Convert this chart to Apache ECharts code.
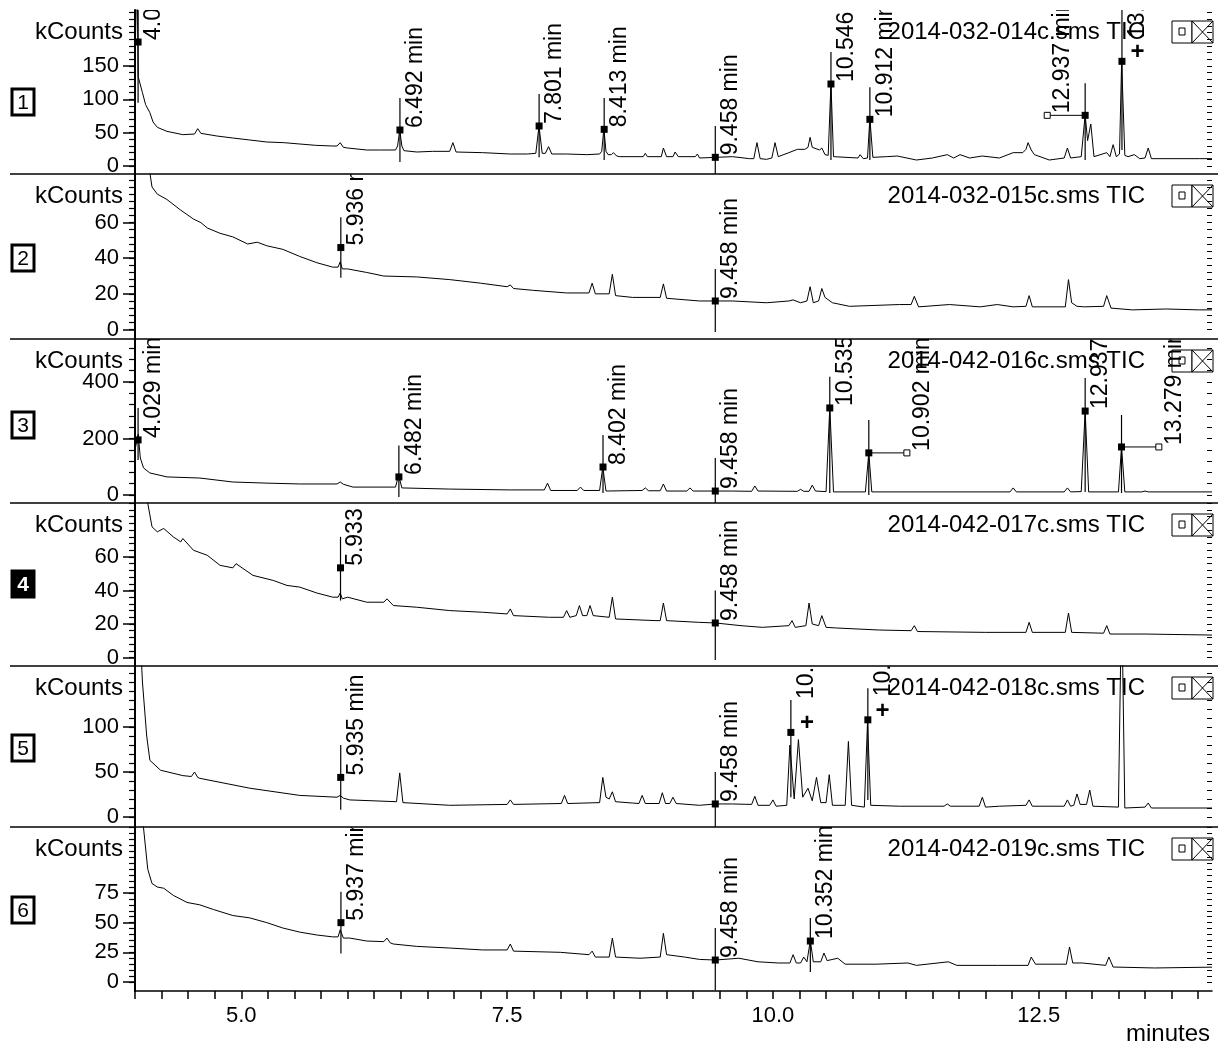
<!DOCTYPE html>
<html>
<head>
<meta charset="utf-8">
<script src="https://cdn.jsdelivr.net/npm/echarts@6/dist/echarts.min.js"></script>
<style>
  html, body { margin: 0; padding: 0; background: #fff; }
  #chart { width: 1218px; height: 1046px; }
</style>
</head>
<body>
<div id="chart"></div>
<script>
// TIC traces, [minutes, kCounts]
var trace1 = [[4.00,160],[4.02,300],[4.03,134],[4.07,110],[4.10,92],[4.14,80],[4.17,66],[4.21,58],[4.30,52],[4.45,47],[4.56,48],[4.59,56],[4.62,49],[4.77,45],[4.92,42],[5.08,39],[5.24,36],[5.40,35],[5.55,33],[5.70,31],[5.86,30],[5.90,30],[5.93,35],[5.96,28],[6.00,27],[6.18,24],[6.30,24],[6.45,24],[6.47,30],[6.49,54],[6.51,30],[6.53,23],[6.65,21],[6.80,22],[6.96,22],[6.99,35],[7.02,21],[7.27,20],[7.53,18],[7.69,18],[7.77,19],[7.80,60],[7.83,19],[7.86,19],[7.89,29],[7.92,18],[8.06,18],[8.25,17],[8.37,18],[8.39,22],[8.41,56],[8.43,22],[8.45,17],[8.48,17],[8.50,20],[8.53,15],[8.56,14],[8.78,14],[8.80,19],[8.82,14],[8.95,14],[8.97,27],[9.00,14],[9.06,14],[9.08,21],[9.11,14],[9.27,14],[9.29,18],[9.31,12],[9.46,13],[9.62,14],[9.78,11],[9.82,11],[9.85,35],[9.88,11],[9.94,10],[9.99,12],[10.02,35],[10.05,14],[10.15,20],[10.23,25],[10.30,25],[10.33,28],[10.35,43],[10.37,28],[10.44,24],[10.46,27],[10.49,17],[10.52,16],[10.546,124],[10.57,14],[10.80,12],[10.82,17],[10.85,11],[10.89,12],[10.912,72],[10.94,13],[11.07,14],[11.17,15],[11.35,9],[11.50,12],[11.64,17],[11.70,12],[11.76,17],[11.85,12],[11.97,15],[12.13,12],[12.26,20],[12.35,20],[12.38,25],[12.40,35],[12.43,24],[12.46,17],[12.60,9],[12.74,12],[12.77,27],[12.80,12],[12.90,14],[12.937,77],[12.96,38],[12.99,63],[13.02,14],[13.14,20],[13.17,14],[13.20,32],[13.23,14],[13.26,18],[13.28,157],[13.31,16],[13.34,14],[13.40,17],[13.45,11],[13.50,12],[13.53,27],[13.56,11],[14.01,11],[14.13,11]];

var trace2 = [[4.00,300],[4.10,120],[4.14,88],[4.16,80],[4.21,76],[4.30,73],[4.43,67],[4.55,62],[4.62,60],[4.68,57],[4.80,54],[4.92,52],[5.06,48],[5.15,49],[5.24,47],[5.39,45],[5.55,41],[5.71,37.5],[5.86,35],[5.91,35],[5.93,38],[5.95,34],[6.00,34],[6.18,32],[6.34,30],[6.65,29.5],[6.96,28],[7.25,26],[7.50,24],[7.53,25],[7.56,23],[7.74,22],[8.06,20.5],[8.27,20.5],[8.30,26],[8.33,20],[8.46,20],[8.49,31],[8.52,19],[8.68,18],[8.94,18],[8.97,25.6],[9.00,17.5],[9.31,16],[9.46,16],[9.62,16],[9.94,15],[10.15,16],[10.19,16.6],[10.26,15],[10.32,16],[10.35,24],[10.38,15],[10.43,16],[10.46,23],[10.49,18],[10.56,15],[10.72,13],[11.19,14],[11.30,14],[11.33,18.6],[11.37,12.7],[11.66,14],[11.95,12.7],[12.11,14],[12.26,12.7],[12.38,13],[12.41,19],[12.44,12.7],[12.75,12.7],[12.78,28],[12.81,15],[12.86,13],[12.93,12.7],[13.11,13],[13.14,19],[13.18,12],[13.38,11],[13.70,11.5],[14.01,11],[14.13,11]];

var trace3 = [[4.00,160],[4.03,215],[4.05,131],[4.08,96],[4.14,78],[4.30,64],[4.61,60],[4.92,46],[5.24,42],[5.55,39],[5.90,39],[5.93,46],[5.96,38],[6.05,28],[6.45,28],[6.48,70],[6.51,25],[6.96,21],[7.53,18],[7.85,18],[7.88,42],[7.91,16],[8.16,16],[8.19,28],[8.22,16],[8.37,16],[8.40,99],[8.43,14],[8.77,16],[8.80,25],[8.83,15],[8.94,15],[8.97,39],[9.00,14],[9.19,14],[9.22,25],[9.25,14],[9.46,14],[9.62,14],[9.80,13],[9.83,32],[9.86,14],[10.23,13],[10.26,20],[10.29,13],[10.34,13],[10.37,35],[10.40,14],[10.50,12],[10.535,310],[10.57,11],[10.87,11],[10.902,149],[10.93,11],[11.60,11],[12.23,11],[12.26,25],[12.29,11],[12.74,11],[12.77,25],[12.80,11],[12.90,12],[12.937,297],[12.97,11],[13.25,11],[13.279,170],[13.31,11],[13.47,11],[13.50,14],[13.53,11],[14.13,11]];

var trace4 = [[4.00,300],[4.12,92],[4.16,78],[4.21,75],[4.27,77],[4.36,72],[4.43,69],[4.45,71],[4.55,64],[4.68,61],[4.80,55],[4.92,53.5],[4.95,56],[5.11,49],[5.30,46],[5.43,43],[5.55,42],[5.71,38.5],[5.86,36],[5.91,36],[5.93,38.5],[5.95,35],[6.00,36],[6.18,33],[6.34,33],[6.37,35],[6.43,31],[6.65,30],[6.96,28],[7.27,27],[7.50,26],[7.53,29],[7.56,25],[7.90,24],[8.03,24],[8.06,28],[8.09,24],[8.15,25],[8.18,31],[8.21,25],[8.25,25],[8.28,31],[8.31,25],[8.46,24],[8.49,36],[8.52,23],[8.90,22],[8.94,22],[8.97,32.5],[9.00,22],[9.30,21],[9.46,20.6],[9.70,19],[9.90,18],[10.15,19],[10.18,22],[10.21,18],[10.31,19],[10.34,32.5],[10.37,20],[10.43,19],[10.46,25],[10.50,18],[10.60,17.6],[11.00,16.4],[11.30,16],[11.33,19],[11.36,15.5],[12.00,15],[12.38,15],[12.41,21],[12.44,15],[12.75,15],[12.78,26.5],[12.81,15],[13.11,14.5],[13.14,19],[13.17,14],[13.50,14],[14.13,13.4]];

var trace5 = [[4.00,300],[4.03,250],[4.07,150],[4.11,90],[4.14,63],[4.24,52],[4.45,46],[4.53,45],[4.56,50],[4.59,44],[4.61,43],[5.08,32],[5.55,24],[5.90,22],[5.93,24],[5.96,21],[6.02,19],[6.46,17],[6.49,49],[6.52,16],[6.96,13],[7.50,14],[7.53,19],[7.56,14],[8.01,15],[8.04,24],[8.07,15],[8.37,16],[8.40,44],[8.43,22],[8.46,20],[8.49,28],[8.52,17],[8.68,15.5],[8.74,15],[8.77,24],[8.80,15],[8.93,15],[8.96,27],[8.99,15],[9.03,15],[9.06,22],[9.09,15],[9.31,13],[9.46,14.5],[9.62,14.5],[9.80,14],[9.83,23],[9.86,13],[9.97,13],[10.00,19],[10.03,12],[10.13,13],[10.16,80],[10.20,20],[10.24,86],[10.28,22],[10.33,32],[10.37,18],[10.41,44],[10.45,16],[10.50,16],[10.53,47],[10.56,13],[10.68,13],[10.71,84],[10.74,13],[10.86,11],[10.89,105],[10.92,13],[11.19,12],[11.61,12],[11.64,14.5],[11.67,12],[11.94,12],[11.97,22],[12.00,11],[12.13,12],[12.38,13],[12.41,19],[12.44,12],[12.74,12],[12.77,19],[12.80,12],[12.83,13],[12.86,25.6],[12.89,14],[12.95,14],[12.98,30],[13.01,12],[13.25,11],[13.28,250],[13.31,10],[13.50,11],[13.53,15.5],[13.56,10],[14.13,10]];

var trace6 = [[4.00,300],[4.08,130],[4.12,95],[4.16,83],[4.21,80],[4.27,79],[4.36,73],[4.49,67],[4.61,65],[4.74,61],[4.92,56],[5.08,54],[5.24,50],[5.39,45.5],[5.55,42],[5.71,39.6],[5.86,38],[5.91,38],[5.93,44],[5.96,37],[6.02,37],[6.18,34.5],[6.34,34],[6.37,37],[6.40,33],[6.43,32],[6.65,30],[6.96,28.6],[7.27,27],[7.50,27],[7.53,32],[7.56,26],[8.00,25],[8.27,23],[8.30,26],[8.33,21],[8.46,21],[8.49,37],[8.52,21],[8.75,20],[8.94,21],[8.97,41],[9.00,23],[9.17,21],[9.31,19],[9.46,18.5],[9.68,20],[9.86,17],[10.05,16],[10.16,16],[10.19,23],[10.22,16],[10.26,16],[10.29,21],[10.32,17],[10.352,35],[10.38,17],[10.45,17],[10.48,24.4],[10.51,18],[10.61,20],[10.68,15],[10.97,15],[11.27,16],[11.35,14],[11.65,17],[11.73,14],[12.11,14],[12.40,14],[12.43,21],[12.47,15],[12.76,15],[12.79,29.5],[12.82,16],[12.91,16],[13.13,14],[13.16,21],[13.20,12.6],[13.59,11.8],[14.13,12.5]];

// peak markers: t, square value, line top / bottom, label, optional label base, connector, plus sign
var markers1 = [
  {t: 4.029, sq: 186, hi: 260, lo: 95, text: '4.029 min'},
  {t: 6.492, sq: 54, hi: 102, lo: 6, text: '6.492 min'},
  {t: 7.801, sq: 60, hi: 108, lo: 13, text: '7.801 min'},
  {t: 8.413, sq: 55, hi: 102, lo: 9, text: '8.413 min'},
  {t: 9.458, sq: 13, hi: 60, lo: -13, text: '9.458 min'},
  {t: 10.546, sq: 123, hi: 171, lo: 9, text: '10.546 min'},
  {t: 10.912, sq: 70, hi: 118, lo: 9, text: '10.912 min'},
  {t: 12.937, sq: 76, hi: 124, lo: 9, text: '12.937 min', conn: 12.58},
  {t: 13.283, sq: 157, hi: 260, lo: 24, text: '13.283 min', lab: 189, plus: [13.43, 171]}
];
var markers2 = [
  {t: 5.936, sq: 46, hi: 63, lo: 29, text: '5.936 min'},
  {t: 9.458, sq: 16, hi: 34, lo: -1.4, text: '9.458 min'}
];
var markers3 = [
  {t: 4.029, sq: 195, hi: 308, lo: 124, text: '4.029 min'},
  {t: 6.482, sq: 64, hi: 175, lo: -7, text: '6.482 min'},
  {t: 8.402, sq: 99, hi: 212, lo: 7, text: '8.402 min'},
  {t: 9.458, sq: 14, hi: 131, lo: -28, text: '9.458 min'},
  {t: 10.535, sq: 308, hi: 418, lo: 7, text: '10.535 min'},
  {t: 10.902, sq: 149, hi: 265, lo: 0, text: '10.902 min', conn: 11.26},
  {t: 12.937, sq: 297, hi: 414, lo: 11, text: '12.937 min'},
  {t: 13.279, sq: 170, hi: 283, lo: 7, text: '13.279 min', conn: 13.63}
];
var markers4 = [
  {t: 5.933, sq: 53.5, hi: 72, lo: 34, text: '5.933 min'},
  {t: 9.458, sq: 20.6, hi: 40, lo: -1.5, text: '9.458 min'}
];
var markers5 = [
  {t: 5.935, sq: 44, hi: 80, lo: 8, text: '5.935 min'},
  {t: 9.458, sq: 14.5, hi: 50, lo: -11, text: '9.458 min'},
  {t: 10.169, sq: 94, hi: 130, lo: 22, text: '10.169 min', lab: 129, plus: [10.32, 104]},
  {t: 10.893, sq: 108, hi: 143, lo: 19, text: '10.893 min', lab: 132, plus: [11.03, 117]}
];
var markers6 = [
  {t: 5.937, sq: 50, hi: 76, lo: 24, text: '5.937 min'},
  {t: 9.458, sq: 18.5, hi: 45.5, lo: -7, text: '9.458 min'},
  {t: 10.352, sq: 34.5, hi: 54, lo: 8.4, text: '10.352 min'}
];

var titles = ['2014-032-014c.sms TIC', '2014-032-015c.sms TIC', '2014-042-016c.sms TIC',
              '2014-042-017c.sms TIC', '2014-042-018c.sms TIC', '2014-042-019c.sms TIC'];
var panelNames = ['1', '2', '3', '4', '5', '6'];
var yRanges = [[-12, 234], [-5.35, 87.3], [-28.3, 552], [-5.07, 92.2], [-11.1, 167.8], [-7.6, 130.6]];
var yLabels = [[0, 50, 100, 150], [0, 20, 40, 60], [0, 200, 400], [0, 20, 40, 60], [0, 50, 100], [0, 25, 50, 75]];
var yMinorStep = [10, 4, 40, 4, 10, 5];
var xLabels = [5, 7.5, 10, 12.5];
var xTicks = [4, 4.25, 4.5, 4.75, 5, 5.25, 5.5, 5.75, 6, 6.25, 6.5, 6.75, 7, 7.25, 7.5, 7.75, 8, 8.25, 8.5, 8.75,
              9, 9.25, 9.5, 9.75, 10, 10.25, 10.5, 10.75, 11, 11.25, 11.5, 11.75, 12, 12.25, 12.5, 12.75,
              13, 13.25, 13.5, 13.75, 14];

var traces = [trace1, trace2, trace3, trace4, trace5, trace6];
var markers = [markers1, markers2, markers3, markers4, markers5, markers6];

// layout
var FONT = '"Liberation Sans", Arial, sans-serif';
var panelTop = [10, 174, 339, 503, 666, 827];
var panelBottom = [174, 339, 503, 666, 827, 991];
var boxCenter = [102, 258, 425, 584, 748, 910];

var dom = document.getElementById('chart');
var myChart = echarts.init(dom, null, { renderer: 'canvas' });

function minorTicks(i) {
  var out = [];
  for (var v = 0; v <= yRanges[i][1]; v += yMinorStep[i]) out.push(v);
  return out;
}

function markerRender(list) {
  return function (params, api) {
    var m = list[params.dataIndex];
    var p = api.coord([m.t, m.sq]);
    var hi = api.coord([m.t, m.hi]);
    var lo = api.coord([m.t, m.lo]);
    var ch = [];
    ch.push({ type: 'line', shape: { x1: p[0], y1: hi[1], x2: p[0], y2: lo[1] },
              style: { stroke: '#000', lineWidth: 1.2 } });
    var lx = p[0], ly = p[1];
    if (m.conn != null) {
      var c = api.coord([m.conn, m.sq]);
      ch.push({ type: 'line', shape: { x1: p[0], y1: p[1], x2: c[0], y2: c[1] },
                style: { stroke: '#000', lineWidth: 1 } });
      ch.push({ type: 'rect', shape: { x: c[0] - 3, y: c[1] - 3, width: 6, height: 6 },
                style: { fill: '#fff', stroke: '#000', lineWidth: 1 } });
      lx = c[0]; ly = c[1];
    }
    ch.push({ type: 'rect', shape: { x: p[0] - 3.5, y: p[1] - 3.5, width: 7, height: 7 },
              style: { fill: '#000' } });
    if (m.lab != null) ly = api.coord([m.t, m.lab])[1];
    ch.push({ type: 'text', x: lx + 4, y: ly - 2, rotation: Math.PI / 2,
              style: { text: m.text, fill: '#000', font: '23px ' + FONT, align: 'left', verticalAlign: 'top' } });
    if (m.plus) {
      var q = api.coord(m.plus);
      ch.push({ type: 'text', x: q[0], y: q[1],
                style: { text: '+', fill: '#000', font: 'bold 24px ' + FONT, align: 'center', verticalAlign: 'middle' } });
    }
    return { type: 'group', children: ch };
  };
}

var grid = [], xAxis = [], yAxis = [], series = [], title = [], graphic = [];

for (var i = 0; i < 6; i++) {
  grid.push({ left: 135, right: 6, top: panelTop[i], height: panelBottom[i] - panelTop[i] });

  var last = i === 5;
  xAxis.push({
    type: 'value', gridIndex: i, min: 4, max: 14.13,
    axisLine: { show: last, onZero: false, lineStyle: { color: '#000', width: 1.5 } },
    axisTick: { show: last, customValues: xTicks, length: 8, lineStyle: { color: '#000', width: 1.5 } },
    axisLabel: { show: last, customValues: xLabels, color: '#000', fontSize: 22, fontFamily: FONT, margin: 14,
                 formatter: function (v) { return v.toFixed(1); } },
    splitLine: { show: false }
  });

  var mt = minorTicks(i);
  yAxis.push({
    type: 'value', gridIndex: i, min: yRanges[i][0], max: yRanges[i][1], position: 'left',
    axisLine: { show: true, onZero: false, lineStyle: { color: '#000', width: 2 } },
    axisTick: { show: true, customValues: yLabels[i], length: 12, lineStyle: { color: '#000', width: 1.5 } },
    axisLabel: { customValues: yLabels[i], color: '#000', fontSize: 22, fontFamily: FONT, margin: 16 },
    splitLine: { show: false }
  });
  yAxis.push({
    type: 'value', gridIndex: i, min: yRanges[i][0], max: yRanges[i][1], position: 'left',
    axisLine: { show: false },
    axisTick: { show: true, customValues: mt, length: 6, lineStyle: { color: '#000', width: 1.2 } },
    axisLabel: { show: false },
    splitLine: { show: false }
  });
  yAxis.push({
    type: 'value', gridIndex: i, min: yRanges[i][0], max: yRanges[i][1], position: 'right',
    axisLine: { show: false },
    axisTick: { show: true, inside: true, customValues: mt, length: 5, lineStyle: { color: '#000', width: 1 } },
    axisLabel: { show: false },
    splitLine: { show: false }
  });

  series.push({
    type: 'line', xAxisIndex: i, yAxisIndex: i * 3, data: traces[i],
    showSymbol: false, clip: true, silent: true,
    lineStyle: { color: '#000', width: 1 }
  });
  series.push({
    type: 'custom', xAxisIndex: i, yAxisIndex: i * 3, clip: true, silent: true, z: 3,
    data: markers[i].map(function (m) { return [m.t, m.sq]; }),
    encode: { x: 0, y: 1 },
    renderItem: markerRender(markers[i])
  });

  var cy = panelTop[i] + 22;
  title.push({
    text: titles[i], right: 73, top: cy - 13, padding: 0,
    textStyle: { color: '#000', fontSize: 24, fontWeight: 'normal', fontFamily: FONT, lineHeight: 26 }
  });

  // y-axis name
  graphic.push({ type: 'text', x: 123, y: cy,
    style: { text: 'kCounts', fill: '#000', font: '24px ' + FONT, align: 'right', verticalAlign: 'middle' } });

  // window icons
  graphic.push({ type: 'rect', shape: { x: 1172, y: cy - 11, width: 20, height: 22 },
    style: { fill: '#fff', stroke: '#000', lineWidth: 1 } });
  graphic.push({ type: 'rect', shape: { x: 1179, y: cy - 4, width: 6, height: 7 },
    style: { fill: 'none', stroke: '#000', lineWidth: 1 } });
  graphic.push({ type: 'rect', shape: { x: 1192, y: cy - 11, width: 21, height: 22 },
    style: { fill: '#fff', stroke: '#000', lineWidth: 1 } });
  graphic.push({ type: 'polyline', shape: { points: [[1192, cy - 11], [1213, cy + 11]] },
    style: { stroke: '#000', lineWidth: 1 } });
  graphic.push({ type: 'polyline', shape: { points: [[1213, cy - 11], [1192, cy + 11]] },
    style: { stroke: '#000', lineWidth: 1 } });

  // panel number box
  var inv = panelNames[i] === '4';
  graphic.push({ type: 'rect', shape: { x: 12, y: boxCenter[i] - 13, width: 22, height: 26 },
    style: { fill: inv ? '#000' : '#fff', stroke: '#000', lineWidth: 3 } });
  graphic.push({ type: 'text', x: 23, y: boxCenter[i] + 1,
    style: { text: panelNames[i], fill: inv ? '#fff' : '#000', font: (inv ? 'bold ' : '') + '21px ' + FONT,
             align: 'center', verticalAlign: 'middle' } });

  // panel separator
  if (!last) {
    graphic.push({ type: 'line', shape: { x1: 10, y1: panelBottom[i], x2: 1218, y2: panelBottom[i] },
      style: { stroke: '#000', lineWidth: 1.5 } });
  }
}

graphic.push({ type: 'text', x: 1210, y: 1034,
  style: { text: 'minutes', fill: '#000', font: '24px ' + FONT, align: 'right', verticalAlign: 'middle' } });

var option = {
  animation: false,
  backgroundColor: '#fff',
  title: title,
  grid: grid,
  xAxis: xAxis,
  yAxis: yAxis,
  series: series,
  graphic: graphic
};

if (option && typeof option === 'object') {
  myChart.setOption(option);
}

window.addEventListener('resize', myChart.resize);
</script>
</body>
</html>
